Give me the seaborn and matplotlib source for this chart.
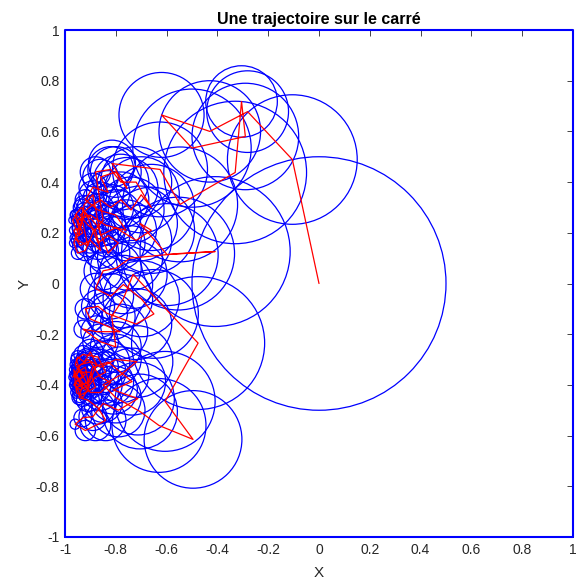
import numpy as np
import pandas as pd
import matplotlib
matplotlib.use("Agg")
import matplotlib.pyplot as plt
from matplotlib.patches import Circle
import seaborn as sns

# walk-on-spheres trajectory, points
traj_x = [
    0.0, -0.105, -0.281, -0.43, -0.62, -0.50, -0.29, -0.305, -0.33, -0.547,
    -0.626, -0.815, -0.756,
    # upper cluster
    -0.80, -0.86, -0.83, -0.89, -0.92, -0.87, -0.80, -0.76, -0.84, -0.90,
    -0.95, -0.93, -0.96, -0.94, -0.90, -0.86, -0.88, -0.91, -0.94, -0.905,
    -0.86, -0.82, -0.78, -0.74, -0.70, -0.66, -0.72, -0.78, -0.82, -0.88,
    -0.85, -0.89, -0.92, -0.95, -0.965, -0.945, -0.96, -0.935, -0.91, -0.87,
    -0.83, -0.79, -0.83, -0.87, -0.92, -0.94, -0.965, -0.95, -0.91, -0.93,
    -0.955, -0.97, -0.945, -0.925, -0.89, -0.86, -0.80, -0.72, -0.66, -0.705,
    # middle
    -0.598, -0.409, -0.555, -0.744, -0.80, -0.85, -0.88, -0.82, -0.77, -0.70,
    -0.65, -0.72, -0.836, -0.87, -0.92, -0.90, -0.783, -0.875, -0.929, -0.86,
    -0.80, -0.816, -0.77, -0.732, -0.476, -0.606, -0.496, -0.63, -0.705,
    # lower cluster
    -0.80, -0.85, -0.78, -0.717, -0.80, -0.86, -0.91, -0.95, -0.93, -0.96,
    -0.92, -0.88, -0.84, -0.87, -0.93, -0.955, -0.94, -0.90, -0.88, -0.94,
    -0.955, -0.91, -0.89, -0.83, -0.736, -0.81, -0.713, -0.79, -0.85, -0.89,
    -0.93, -0.96, -0.92, -0.88, -0.84, -0.87, -0.91, -0.945, -0.93, -0.965,
    -0.94, -0.90, -0.86, -0.82, -0.86, -0.90, -0.935, -0.955, -0.945, -0.92,
    -0.95, -0.965, -0.94, -0.91, -0.935, -0.96, -0.95, -0.925, -0.90, -0.875,
    -0.905, -0.94, -0.965, -0.955, -0.93, -0.905, -0.92, -0.95, -0.97,
]
traj_y = [
    0.0, 0.489, 0.678, 0.60, 0.665, 0.534, 0.58, 0.718, 0.438, 0.312,
    0.45, 0.473, 0.375,
    0.44, 0.42, 0.36, 0.38, 0.33, 0.29, 0.27, 0.21, 0.23, 0.27,
    0.25, 0.20, 0.18, 0.15, 0.17, 0.13, 0.21, 0.23, 0.27, 0.30,
    0.33, 0.30, 0.33, 0.29, 0.35, 0.30, 0.40, 0.40, 0.45, 0.44,
    0.25, 0.20, 0.13, 0.12, 0.16, 0.22, 0.27, 0.30, 0.26, 0.16,
    0.19, 0.16, 0.12, 0.225, 0.28, 0.22, 0.21, 0.17, 0.15, 0.24,
    0.27, 0.25, 0.19, 0.31, 0.35, 0.19, 0.22, 0.17, 0.21, 0.237,
    0.114, 0.126, 0.118, 0.10, 0.06, 0.05, -0.02, -0.05, -0.004, -0.06,
    -0.12, -0.16, -0.117, -0.09, -0.10, -0.14, -0.19, -0.19, -0.18, -0.23,
    -0.25, -0.13, -0.06, 0.036, -0.235, -0.465, -0.615, -0.56, -0.505,
    -0.45, -0.40, -0.36, -0.308, -0.30, -0.33, -0.30, -0.33, -0.37, -0.39,
    -0.42, -0.37, -0.35, -0.29, -0.28, -0.30, -0.35, -0.35, -0.41, -0.44,
    -0.41, -0.39, -0.33, -0.31, -0.387, -0.42, -0.454, -0.50, -0.473, -0.525,
    -0.53, -0.555, -0.58, -0.56, -0.54, -0.49, -0.46, -0.45, -0.40, -0.36,
    -0.32, -0.31, -0.37, -0.39, -0.43, -0.43, -0.385, -0.365, -0.34, -0.36,
    -0.38, -0.40, -0.42, -0.40, -0.355, -0.32, -0.29, -0.31, -0.27, -0.32,
    -0.39, -0.40, -0.34, -0.43, -0.45, -0.41, -0.33, -0.35, -0.37,
]

ticks = [-1, -0.8, -0.6, -0.4, -0.2, 0, 0.2, 0.4, 0.6, 0.8, 1]
tick_labels = ["-1", "-0.8", "-0.6", "-0.4", "-0.2", "0", "0.2", "0.4", "0.6", "0.8", "1"]
square_x = [-1, 1, 1, -1, -1]
square_y = [-1, -1, 1, 1, -1]

df = pd.DataFrame({"x": traj_x, "y": traj_y})

sns.set_style("white")
plt.rcParams["font.family"] = ["Liberation Sans", "DejaVu Sans"]

fig = plt.figure(figsize=(5.79, 5.80), dpi=100)
ax = fig.add_axes([65 / 579, 1 - 537 / 580, 508 / 579, 507 / 580])

# circles: radius is half the distance to the square's boundary
for cx, cy in zip(traj_x, traj_y):
    d = min(1 - abs(cx), 1 - abs(cy))
    ax.add_patch(Circle((cx, cy), d / 2, fill=False, edgecolor="blue", lw=0.9))

sns.lineplot(data=df, x="x", y="y", sort=False, estimator=None,
             color="red", lw=0.9, ax=ax, zorder=3)
ax.plot(square_x, square_y, color="blue", lw=1.5, clip_on=False, zorder=4)

ax.set_xlim(-1, 1)
ax.set_ylim(-1, 1)
ax.set_xticks(ticks)
ax.set_xticklabels(tick_labels)
ax.set_yticks(ticks)
ax.set_yticklabels(tick_labels)
ax.tick_params(direction="in", length=4, width=0.6, colors="#262626",
               labelsize=10, top=True, right=True, pad=4)
for s in ax.spines.values():
    s.set_color("#262626")
    s.set_linewidth(0.6)

ax.set_xlabel("X", fontsize=11, color="#262626", labelpad=7)
ax.set_ylabel("Y", fontsize=11, color="#262626", labelpad=3)
ax.set_title("Une trajectoire sur le carré", fontsize=11.5, fontweight="bold",
             color="black", pad=4)

fig.savefig("out.png", dpi=100)
